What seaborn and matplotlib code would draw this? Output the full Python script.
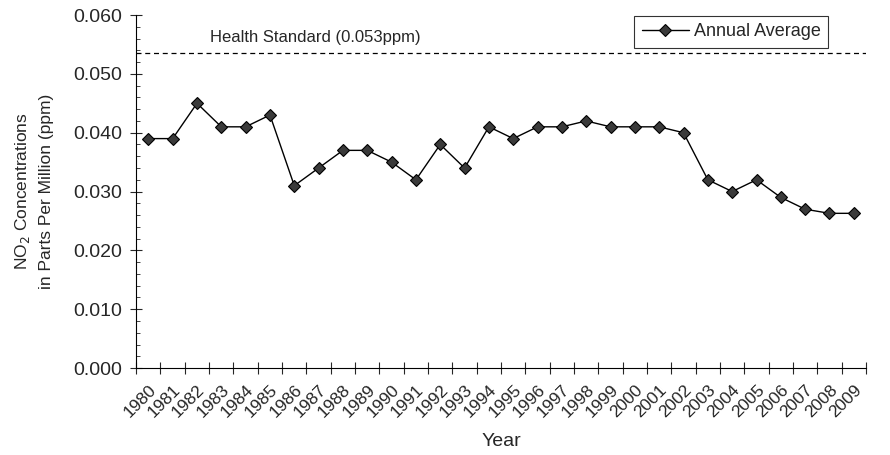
import matplotlib
matplotlib.use("Agg")
import matplotlib.pyplot as plt
import numpy as np
import pandas as pd
import seaborn as sns

# data
years = [str(y) for y in range(1980, 2010)]
no2_avg = [0.039, 0.039, 0.045, 0.041, 0.041, 0.043, 0.031, 0.034, 0.037, 0.037,
           0.035, 0.032, 0.038, 0.034, 0.041, 0.039, 0.041, 0.041, 0.042, 0.041,
           0.041, 0.041, 0.040, 0.032, 0.030, 0.032, 0.029, 0.027, 0.0263, 0.0263]
health_std = 0.0535
health_label = "Health Standard (0.053ppm)"
y_ticks = [0.000, 0.010, 0.020, 0.030, 0.040, 0.050, 0.060]

df = pd.DataFrame({"Year": years, "NO2": no2_avg})

sns.set_style("ticks")
plt.rcParams['font.family'] = ['Liberation Sans', 'DejaVu Sans']

fig = plt.figure(figsize=(8.9, 4.55), dpi=100)
ax = fig.add_axes([0.153, 0.191, 0.820, 0.776])

sns.lineplot(data=df, x="Year", y="NO2", ax=ax, color="black", lw=1.0,
             marker="D", markersize=6.5, markerfacecolor="#3a3a3a",
             markeredgecolor="black", markeredgewidth=0.8,
             label="Annual Average")

ax.axhline(health_std, color="black", lw=0.9, ls=(0, (4, 3)))
ax.text(2.55, 0.0562, health_label, fontsize=12, ha="left", va="center")

ax.set_xlim(-0.5, len(years) - 0.5)
ax.set_ylim(0, 0.060)
ax.set_yticks(y_ticks)
ax.set_yticklabels([f"{v:.3f}" for v in y_ticks], fontsize=14)
ax.set_yticks(np.arange(0, 0.0601, 0.002), minor=True)

ax.set_xticks(range(len(years)))
ax.set_xticklabels(years, rotation=45, ha="right", rotation_mode="anchor", fontsize=12.5)
ax.set_xticks(np.arange(-0.5, len(years)), minor=True)
ax.tick_params(axis="x", which="major", length=0, pad=10)
ax.tick_params(axis="x", which="minor", direction="inout", length=8, width=0.8)
ax.tick_params(axis="y", which="major", direction="inout", length=8, width=0.8, pad=6)
ax.tick_params(axis="y", which="minor", direction="in", length=3, width=0.6)

sns.despine(ax=ax)
for s in ["left", "bottom"]:
    ax.spines[s].set_linewidth(0.8)
    ax.spines[s].set_color("black")

ax.set_xlabel("Year", fontsize=14, labelpad=9)
ax.set_ylabel("NO$_2$ Concentrations\nin Parts Per Million (ppm)", fontsize=12.5,
              labelpad=14, linespacing=1.6)

leg = ax.legend(loc="upper right", bbox_to_anchor=(0.948, 0.997), frameon=True,
                fancybox=False, edgecolor="black", fontsize=13, borderaxespad=0,
                handlelength=2.6, borderpad=0.4, handletextpad=0.3)
leg.get_frame().set_linewidth(0.8)

fig.savefig("out.png", dpi=100)
